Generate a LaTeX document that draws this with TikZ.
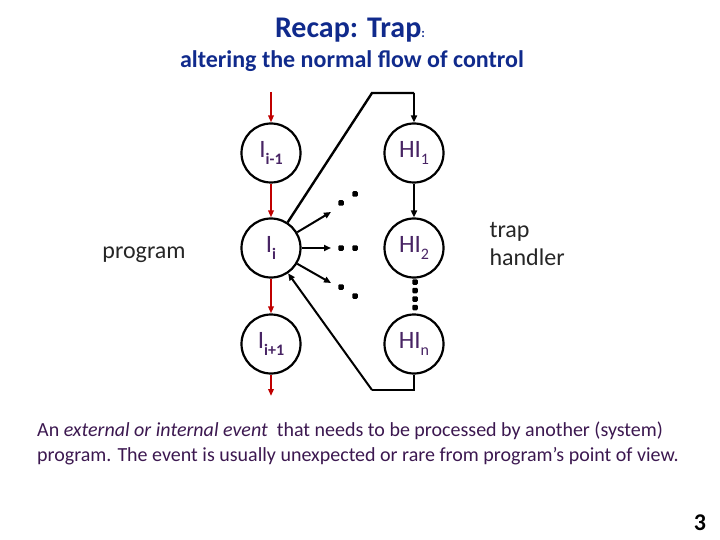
\documentclass[tikz,border=0pt]{standalone}
\usepackage{fontspec}
\setmainfont{Carlito}
\usetikzlibrary{arrows.meta}
\definecolor{titleblue}{RGB}{16,42,140}
\definecolor{lblpurple}{RGB}{72,36,100}
\definecolor{bodypurple}{RGB}{60,24,80}
\definecolor{flowred}{RGB}{192,0,0}
\newcommand{\subt}[1]{\raisebox{-0.55ex}{\fontsize{16}{16}\selectfont #1}}
\tikzset{
  stage/.style={circle, draw=black, line width=2.2pt, minimum size=59pt, inner sep=0pt,
    text=lblpurple, font=\fontsize{25}{25}\selectfont},
  redarrow/.style={draw=flowred, line width=1.8pt, -{Triangle[length=7pt,width=5.5pt]}},
  blkarrow/.style={draw=black, line width=2pt, -{Triangle[length=7pt,width=6pt]}},
  blkline/.style={draw=black, line width=2.4pt, line join=miter},
  dotmark/.style={fill=black, rounded corners=1.2pt, inner sep=0pt, minimum size=5.5pt},
  plain/.style={font=\fontsize{24}{28}\selectfont, text=black!85}
}
\begin{document}
\begin{tikzpicture}[x=1pt,y=-1pt]
\useasboundingbox (0,0) rectangle (720,540);
% title
\node[font=\fontsize{30}{32}\selectfont\bfseries, text=titleblue] (title) at (350,30) {Recap: Trap{\fontsize{13}{13}\selectfont :}};
\node[font=\fontsize{24}{28}\selectfont\bfseries, text=titleblue] (subtitle) at (352,61) {altering the normal flow of control};
% circles
\node[stage] (Ia) at (271,153) {I\subt{\bfseries i-1}};
\node[stage] (Ib) at (271,248) {I\subt{\bfseries i}};
\node[stage] (Ic) at (271,344) {I\subt{\bfseries i+1}};
\node[stage] (Ha) at (414,153) {HI\subt{1}};
\node[stage] (Hb) at (414,248) {HI\subt{2}};
\node[stage] (Hn) at (414,344) {HI\subt{n}};
% red flow
\coordinate (rtop) at (271,92);
\coordinate (rbot) at (271,396);
\draw[redarrow] (rtop) -- (Ia.north);
\draw[redarrow] (Ia.south) -- (Ib.north);
\draw[redarrow] (Ib.south) -- (Ic.north);
\draw[redarrow] (Ic.south) -- (rbot);
% trap to handler
\coordinate (tk1) at (372,93);
\coordinate (tk2) at (414,93);
\draw[blkline] (Ib.57) -- (tk1) -- (tk2);
\draw[blkarrow] (tk2) -- (Ha.north);
\draw[blkarrow] (Ha.south) -- (Hb.north);
% return
\coordinate (rk1) at (414,390);
\coordinate (rk2) at (372,390);
\draw[blkline] (Hn.south) -- (rk1) -- (rk2);
\draw[blkarrow] (rk2) -- (Ib.-56);
% fan arrows
\coordinate (fa) at (331,212);
\coordinate (fb) at (331,248);
\coordinate (fc) at (331,283);
\draw[blkarrow] (Ib.31) -- (fa);
\draw[blkarrow] (Ib.east) -- (fb);
\draw[blkarrow] (Ib.-31) -- (fc);
% dots
\node[dotmark] (d1) at (341,203) {};
\node[dotmark] (d2) at (355,194) {};
\node[dotmark] (d3) at (341,248) {};
\node[dotmark] (d4) at (355,248) {};
\node[dotmark] (d5) at (341,287) {};
\node[dotmark] (d6) at (355,296) {};
\node[dotmark] (v1) at (415,282) {};
\node[dotmark] (v2) at (415,290.5) {};
\node[dotmark] (v3) at (415,299) {};
\node[dotmark] (v4) at (415,307.5) {};
% labels
\node[plain] (prog) at (144,255) {program};
\node[plain, anchor=west, align=left] (th) at (486,244) {trap\\handler};
% body text
\node[anchor=north west, align=left, inner sep=0pt, text=bodypurple,
  font=\fontsize{20}{25}\selectfont] (body) at (37,422)
  {An \textit{external or internal event}\ \ that needs to be processed by another (system)\\
   program. The event is usually unexpected or rare from program’s point of view.};
\node[font=\fontsize{24}{28}\selectfont\bfseries, text=black] (num) at (700,523) {3};
\end{tikzpicture}
\end{document}
